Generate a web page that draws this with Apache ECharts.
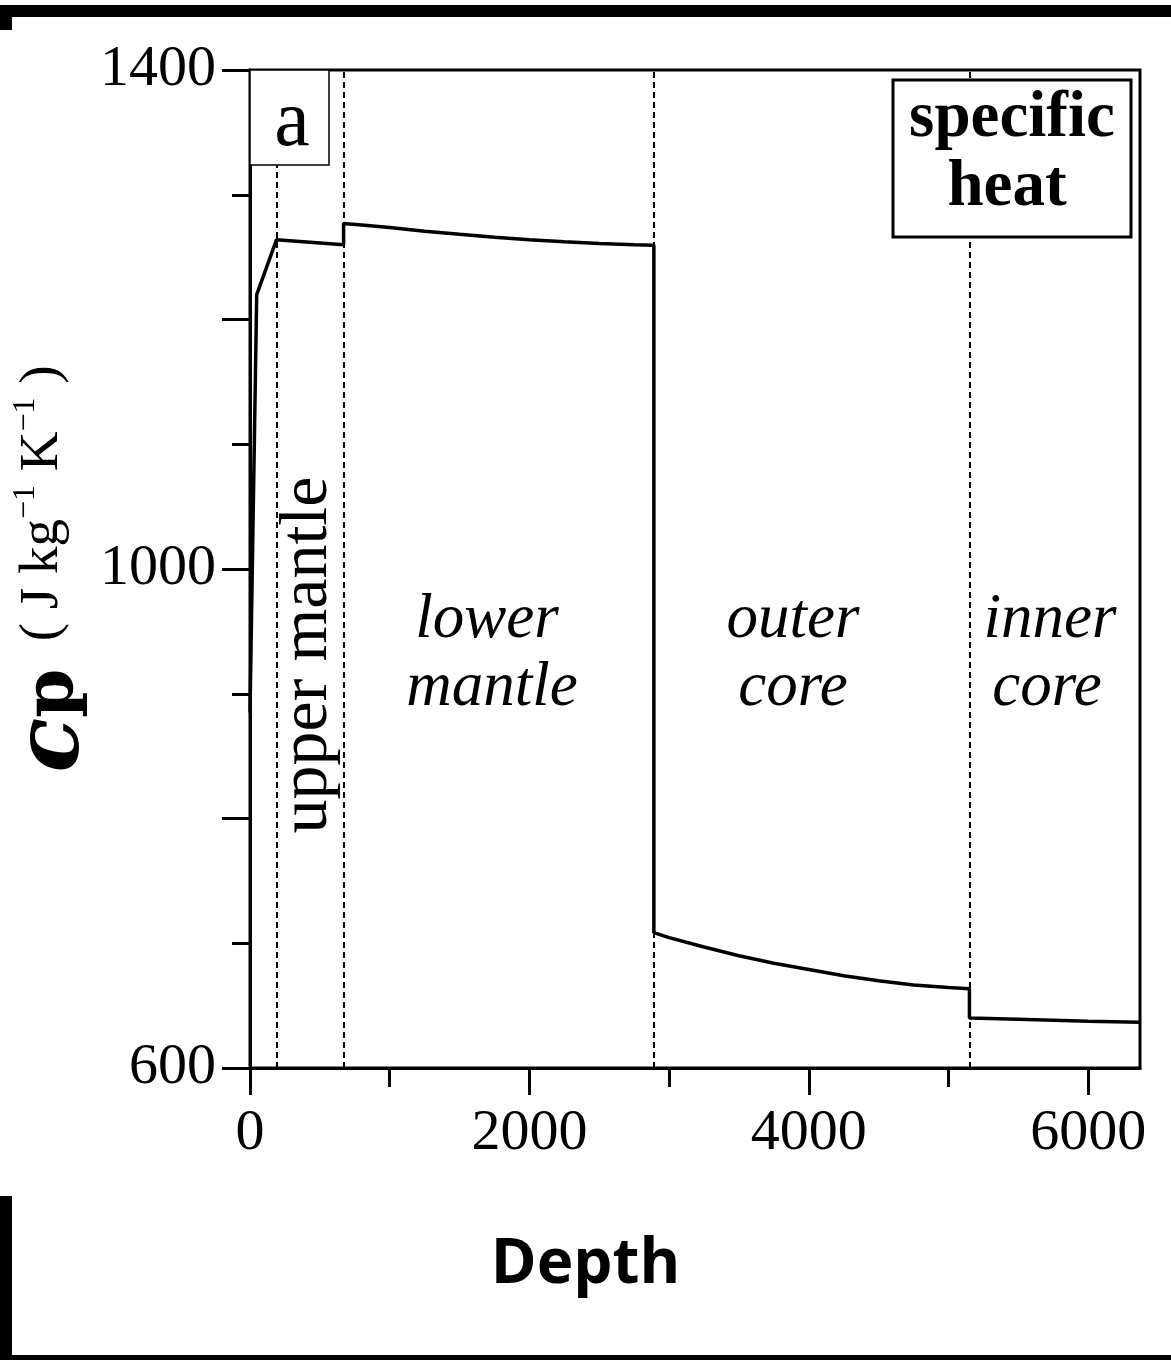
<!DOCTYPE html>
<html>
<head>
<meta charset="utf-8">
<script src="https://cdn.jsdelivr.net/npm/echarts@6/dist/echarts.min.js"></script>
<style>
  html, body { margin: 0; padding: 0; background: #fff; }
  #chart { width: 1171px; height: 1360px; }
</style>
</head>
<body>
<div id="chart"></div>
<script>
// depth (km) vs specific heat cp (J kg-1 K-1)
var depth = [0, 48, 190, 670, 670, 800, 1000, 1250, 1500, 1750, 2000, 2250, 2500, 2750, 2891,
  2891, 3000, 3250, 3500, 3750, 4000, 4250, 4500, 4750, 5000, 5150,
  5150, 5500, 6000, 6371];
var cp = [885, 1220, 1264, 1260, 1277, 1275.8, 1273.8, 1270.8, 1268.3, 1266, 1264, 1262.3, 1261, 1260, 1259.5,
  708.5, 704.5, 697, 690, 684, 679, 674, 670, 666.5, 664.5, 663.5,
  640, 639, 637.5, 636.6];

// layer boundaries (dashed)
var boundaries = [190, 670, 2891, 5150];

// ticks
var xMajor = [0, 2000, 4000, 6000];
var xMinor = [1000, 3000, 5000];
var yShown = [600, 1000, 1400];

var serif = '"Liberation Serif", "DejaVu Serif", serif';
var wideSerif = '"DejaVu Serif", serif';

var myChart = echarts.init(document.getElementById("chart"));

var points = [];
for (var i = 0; i < depth.length; i++) {
  points.push([depth[i], cp[i]]);
}

function txt(x, y, text, font, rot) {
  return {
    type: "text", x: x, y: y, rotation: rot || 0, z: 101,
    style: { text: text, font: font, fill: "#000", textAlign: "center", textVerticalAlign: "middle" }
  };
}

var option = {
  animation: false,
  backgroundColor: "#fff",
  title: {
    text: "Depth",
    left: "center",
    top: 1229,
    textStyle: {
      fontFamily: "Open Sans",
      fontWeight: "bold",
      fontSize: 62,
      color: "#000"
    }
  },
  grid: {
    left: 250,
    top: 70,
    right: 31,
    bottom: 292,
    outerBoundsMode: "none",
    containLabel: false,
    show: true,
    borderColor: "#000",
    borderWidth: 3,
    backgroundColor: "#fff"
  },
  xAxis: [
    {
      type: "value",
      min: 0,
      max: 6371,
      interval: 1000,
      splitLine: { show: false },
      axisLine: { lineStyle: { color: "#000", width: 3 } },
      axisTick: {
        length: 27,
        customValues: xMajor,
        lineStyle: { color: "#000", width: 3 }
      },
      axisLabel: {
        customValues: xMajor,
        margin: 37,
        color: "#000",
        fontFamily: serif,
        fontSize: 58,
        formatter: function (v) { return String(v); }
      }
    },
    {
      // only for the short ticks at 1000/3000/5000
      type: "value",
      position: "bottom",
      min: 0,
      max: 6371,
      interval: 1000,
      splitLine: { show: false },
      axisLine: { show: false },
      axisTick: {
        length: 19,
        customValues: xMinor,
        lineStyle: { color: "#000", width: 3 }
      },
      axisLabel: { show: false }
    }
  ],
  yAxis: {
    type: "value",
    min: 600,
    max: 1400,
    interval: 200,
    splitLine: { show: false },
    axisLine: { lineStyle: { color: "#000", width: 3 } },
    axisTick: { length: 28, lineStyle: { color: "#000", width: 3 } },
    minorTick: { show: true, splitNumber: 2, length: 18, lineStyle: { color: "#000", width: 3 } },
    axisLabel: {
      margin: 34,
      color: "#000",
      fontFamily: serif,
      fontSize: 58,
      formatter: function (v) {
        return yShown.indexOf(v) >= 0 ? String(v) : "";
      }
    },
    name: "{c|c}{p|p}{u|  ( J kg}{sup|−1}{u| K}{sup|−1}{u| )}",
    nameLocation: "middle",
    nameGap: 150,
    nameMoveOverlap: false,
    nameTextStyle: {
      color: "#000",
      rich: {
        c: { fontFamily: wideSerif, fontSize: 90, fontWeight: "bold", fontStyle: "italic", color: "#000" },
        p: { fontFamily: wideSerif, fontSize: 70, fontWeight: "bold", color: "#000" },
        u: { fontFamily: serif, fontSize: 55, color: "#000", padding: [0, 0, 24, 0] },
        sup: { fontFamily: serif, fontSize: 32, color: "#000", padding: [0, 0, 58, 0] }
      }
    }
  },
  graphic: [
    // page frame pieces
    { type: "rect", shape: { x: 0, y: 5, width: 1171, height: 12 }, style: { fill: "#000" }, z: 200 },
    { type: "rect", shape: { x: 0, y: 5, width: 12, height: 25 }, style: { fill: "#000" }, z: 200 },
    { type: "rect", shape: { x: 0, y: 1196, width: 12, height: 164 }, style: { fill: "#000" }, z: 200 },
    { type: "rect", shape: { x: 0, y: 1355, width: 1171, height: 5 }, style: { fill: "#000" }, z: 200 },
    // "a" box
    { type: "rect", shape: { x: 250, y: 70, width: 79, height: 95 }, style: { fill: "#fff", stroke: "#000", lineWidth: 1.5 }, z: 100 },
    txt(292, 124, "a", "80px " + serif),
    // "specific heat" box
    { type: "rect", shape: { x: 893, y: 80, width: 238, height: 157 }, style: { fill: "#fff", stroke: "#000", lineWidth: 3 }, z: 100 },
    txt(1012, 119, "specific", "bold 65px " + serif),
    txt(1007, 188, "heat", "bold 65px " + serif),
    // region labels
    txt(308, 655, "upper mantle", "68px " + serif, Math.PI / 2),
    txt(487, 620, "lower", "italic 63px " + serif),
    txt(492, 688, "mantle", "italic 63px " + serif),
    txt(793, 620, "outer", "italic 63px " + serif),
    txt(793, 688, "core", "italic 63px " + serif),
    txt(1050, 620, "inner", "italic 63px " + serif),
    txt(1047, 688, "core", "italic 63px " + serif)
  ],
  series: [
    {
      type: "line",
      data: points,
      showSymbol: false,
      symbol: "none",
      lineStyle: { color: "#000", width: 3.5 },
      markLine: {
        silent: true,
        symbol: ["none", "none"],
        label: { show: false },
        lineStyle: { color: "#000", width: 2, type: [6, 4] },
        data: boundaries.map(function (b) { return { xAxis: b }; })
      }
    }
  ]
};

myChart.setOption(option);
</script>
</body>
</html>
